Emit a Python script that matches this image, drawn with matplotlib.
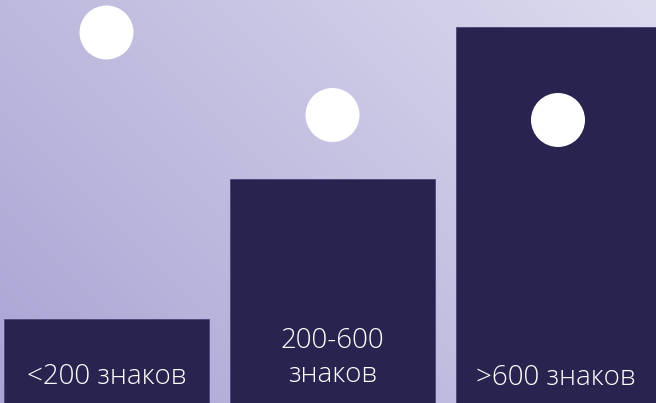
#!/usr/bin/env python3

import numpy as np
import matplotlib
matplotlib.use('Agg')
import matplotlib.pyplot as plt

# bar data (heights in chart units, 0..403)
labels = ['<200 знаков', '200-600\nзнаков', '>600 знаков']
lefts = [4, 230, 456]
widths = [205, 205, 200]
heights = [84, 224, 376]

# decorative white dots
dot_x = [106.5, 332.5, 558]
dot_y = [370.5, 288, 283]

bar_color = '#29234f'


def main():
    fig = plt.figure(figsize=(6.56, 4.03), dpi=100)
    ax = fig.add_axes([0, 0, 1, 1])
    ax.set_xlim(0, 656)
    ax.set_ylim(0, 403)
    ax.axis('off')

    # diagonal gradient background, bottom-left darker
    xx, yy = np.meshgrid(np.linspace(0, 1, 200), np.linspace(0, 1, 200))
    t = (xx * 0.62 + yy * 0.38)
    c0 = np.array([0xa9, 0xa4, 0xd4]) / 255.0
    c1 = np.array([0xdc, 0xdb, 0xee]) / 255.0
    img = c0[None, None, :] * (1 - t[..., None]) + c1[None, None, :] * t[..., None]
    ax.imshow(img, extent=[0, 656, 0, 403], origin='lower', aspect='auto', zorder=0)

    ax.bar(lefts, heights, width=widths, align='edge', color=bar_color,
           edgecolor='#4a4577', linewidth=0.6, zorder=2)

    # 54 px across -> points
    ax.scatter(dot_x, dot_y, s=(54 * 72 / 100) ** 2, color='white',
               edgecolors='none', zorder=3)

    label_y = [26, 45, 25]
    for l, w, lab, y in zip(lefts, widths, labels, label_y):
        ax.text(l + w / 2, y, lab, color='white', ha='center', va='center',
                fontsize=20, family='Open Sans', fontweight='light',
                linespacing=1.3, zorder=4)

    fig.savefig('out.png', dpi=100)


if __name__ == '__main__':
    main()
